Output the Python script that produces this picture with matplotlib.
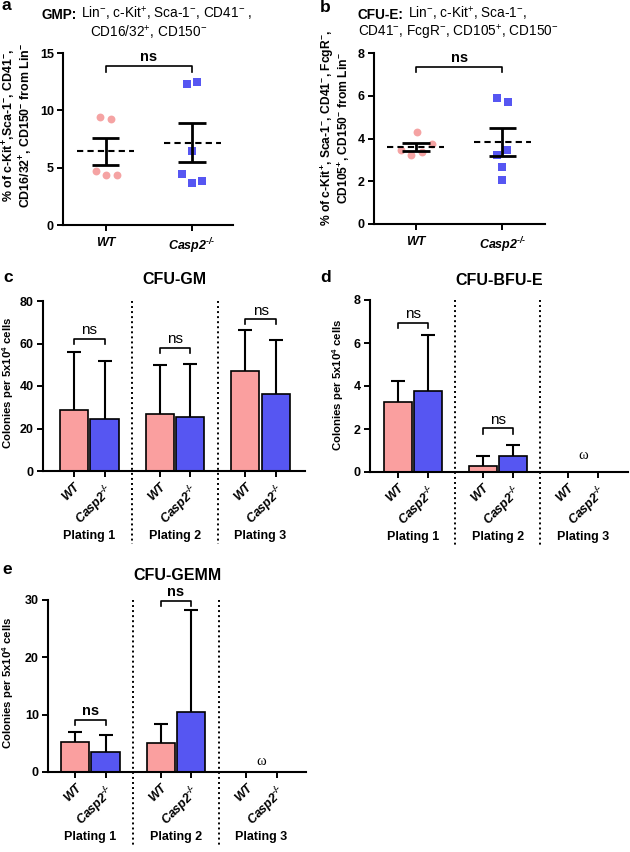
import numpy as np
import matplotlib
matplotlib.use('Agg')
import matplotlib.pyplot as plt
from matplotlib.transforms import blended_transform_factory

plt.rcParams['font.family'] = ['Liberation Sans', 'DejaVu Sans']
plt.rcParams['font.weight'] = 'bold'
plt.rcParams['mathtext.fontset'] = 'custom'
plt.rcParams['mathtext.rm'] = 'Liberation Sans'
plt.rcParams['mathtext.bf'] = 'Liberation Sans:bold'
plt.rcParams['mathtext.it'] = 'Liberation Sans:italic:bold'
plt.rcParams['mathtext.default'] = 'regular'

PINK_PT = '#F5A3A3'
PINK_BAR = '#FA9F9F'
BLUE = '#5656F2'

# ---------------- data ----------------
genotypes = ['WT', 'Casp2$^{\u2010/\u2010}$']

gmp_wt = [9.39, 9.24, 4.71, 4.36, 4.36]
gmp_ko = [12.31, 12.49, 6.43, 4.47, 3.65, 3.80]
gmp_wt_jit = [-0.06, 0.06, -0.115, 0.01, 0.127]
gmp_ko_jit = [-0.065, 0.054, 0.0, -0.119, 0.0, 0.115]

cfue_wt = [4.30, 3.47, 3.24, 3.35, 3.72]
cfue_ko = [5.90, 5.70, 3.44, 3.21, 2.69, 2.07]
cfue_wt_jit = [0.011, -0.169, -0.05, 0.073, 0.19]
cfue_ko_jit = [-0.065, 0.061, 0.054, -0.065, 0.0, 0.0]

platings = ['Plating 1', 'Plating 2', 'Plating 3']

gm_wt = [28.6, 26.8, 47.2]
gm_wt_sd = [27.3, 23.1, 19.2]
gm_ko = [24.6, 25.2, 36.4]
gm_ko_sd = [27.0, 25.2, 25.3]

bfu_wt = [3.27, 0.27, 0.0]
bfu_wt_sd = [0.96, 0.49, 0.0]
bfu_ko = [3.77, 0.76, 0.0]
bfu_ko_sd = [2.62, 0.48, 0.0]

gemm_wt = [5.3, 5.07, 0.0]
gemm_wt_sd = [1.7, 3.26, 0.0]
gemm_ko = [3.5, 10.5, 0.0]
gemm_ko_sd = [2.9, 17.75, 0.0]

W, H = 630, 852
fig = plt.figure(figsize=(W / 100, H / 100), dpi=100)


def px_axes(left, right, top, bottom):
    return fig.add_axes([left / W, 1 - bottom / H, (right - left) / W, (bottom - top) / H])


def style_axes(ax):
    for s in ['top', 'right']:
        ax.spines[s].set_visible(False)
    for s in ['left', 'bottom']:
        ax.spines[s].set_linewidth(1.5)
    ax.tick_params(axis='both', width=1.4, length=4.5, labelsize=9, pad=2)
    for lab in ax.get_yticklabels():
        lab.set_fontweight('bold')


def scatter_panel(ax, wt, wt_j, ko, ko_j, ylim, yticks, xlim, ns_y, ylabel, lab_xy, lab_fs):
    wt = np.asarray(wt); ko = np.asarray(ko)
    ax.scatter(0 + np.asarray(wt_j), wt, s=32, marker='o', color=PINK_PT, lw=0, zorder=2, clip_on=False)
    ax.scatter(1 + np.asarray(ko_j), ko, s=28, marker='s', color=BLUE, lw=0, zorder=2, clip_on=False)
    for x, d in [(0, wt), (1, ko)]:
        m = d.mean()
        sem = d.std(ddof=1) / np.sqrt(len(d))
        ax.hlines(m, x - 0.33, x + 0.33, colors='k', linestyles=(0, (3, 2)), lw=1.5, zorder=3)
        ax.vlines(x, m - sem, m + sem, colors='k', lw=2.0, zorder=3)
        ax.hlines([m - sem, m + sem], x - 0.16, x + 0.16, colors='k', lw=2.0, zorder=3)
    top, drop = ns_y
    ax.plot([0, 0, 1, 1], [top - drop, top, top, top - drop], color='k', lw=1.2, clip_on=False)
    ax.text(0.5, top + drop * 0.3, 'ns', ha='center', va='bottom', fontsize=10.5, fontweight='bold')
    ax.set_ylim(*ylim)
    ax.set_yticks(yticks)
    ax.set_xlim(*xlim)
    ax.set_xticks([0, 1])
    ax.set_xticklabels(genotypes, fontsize=9.8, fontstyle='italic', fontweight='bold')
    style_axes(ax)
    ax.tick_params(axis='x', pad=4)
    ax.set_ylabel(ylabel, fontsize=lab_fs, fontweight='bold', linespacing=0.95)
    ax.yaxis.set_label_coords(*lab_xy)


def bar_panel(ax, wt, wt_sd, ko, ko_sd, ylim, yticks, xlim, brackets, ns_bold, omega_y, lab_xy):
    step = 2.8
    pos_wt = np.arange(3) * step
    pos_ko = pos_wt + 1
    wt = np.asarray(wt); ko = np.asarray(ko)
    wt_sd = np.asarray(wt_sd); ko_sd = np.asarray(ko_sd)
    for pos, vals, sd, col in [(pos_wt, wt, wt_sd, PINK_BAR), (pos_ko, ko, ko_sd, BLUE)]:
        keep = vals > 0
        ax.bar(pos[keep], vals[keep], width=0.92, color=col, edgecolor='k', lw=1.2, zorder=2)
        eb = ax.errorbar(pos[keep], vals[keep], yerr=[np.zeros(keep.sum()), sd[keep]], fmt='none',
                         ecolor='k', elinewidth=1.5, capsize=5, capthick=1.5, zorder=1)
        for cap in eb[1]:
            if np.allclose(cap.get_ydata(), vals[keep]):
                cap.set_visible(False)
    dropfrac = 0.03 * (ylim[1] - ylim[0])
    for g, y in brackets:
        x0, x1 = pos_wt[g], pos_ko[g]
        ax.plot([x0, x0, x1, x1], [y - dropfrac, y, y, y - dropfrac], color='k', lw=1.2, clip_on=False)
        ax.text((x0 + x1) / 2, y + dropfrac * 0.25, 'ns', ha='center', va='bottom',
                fontsize=11 if not ns_bold else 10.5, fontweight='bold' if ns_bold else 'normal')
    if omega_y is not None:
        ax.text((pos_wt[2] + pos_ko[2]) / 2, omega_y, '\u03c9', ha='center', va='center',
                fontsize=10.5, fontfamily='Liberation Serif', fontweight='normal')
    ax.set_ylim(*ylim)
    ax.set_yticks(yticks)
    ax.set_xlim(*xlim)
    ticks = np.ravel(np.column_stack([pos_wt, pos_ko]))
    ax.set_xticks(ticks)
    ax.set_xticklabels(genotypes * 3, rotation=45, ha='right', rotation_mode='anchor',
                       fontsize=8.8, fontstyle='italic', fontweight='bold')
    style_axes(ax)
    ax.tick_params(axis='x', pad=3)
    trans = blended_transform_factory(ax.transData, ax.transAxes)
    for sep in [(pos_ko[0] + pos_wt[1]) / 2, (pos_ko[1] + pos_wt[2]) / 2]:
        ax.plot([sep, sep], [1.0, -0.43], transform=trans, color='k', lw=1.4,
                linestyle=(0, (1, 1.6)), clip_on=False)
    for g in range(3):
        ax.text((pos_wt[g] + pos_ko[g]) / 2, -0.38, platings[g], transform=trans,
                ha='center', va='center', fontsize=9, fontweight='bold')
    ax.set_ylabel('Colonies per 5x10$^{4}$ cells', fontsize=8.2, fontweight='bold')
    ax.yaxis.set_label_coords(*lab_xy)


# ---- panel a
axa = px_axes(63, 233, 53, 225)
scatter_panel(axa, gmp_wt, gmp_wt_jit, gmp_ko, gmp_ko_jit, (0, 15), [0, 5, 10, 15], (-0.49, 1.47),
              (13.86, 0.5),
              '% of c-Kit$^{+}$,Sca-1$^{-}$, CD41$^{-}$,\nCD16/32$^{+}$, CD150$^{-}$ from Lin$^{-}$',
              (-0.165, 0.58), 8.9)

# ---- panel b
axb = px_axes(374, 545, 53, 224)
scatter_panel(axb, cfue_wt, cfue_wt_jit, cfue_ko, cfue_ko_jit, (0, 8), [0, 2, 4, 6, 8], (-0.48, 1.49),
              (7.36, 0.23),
              '% of c-Kit$^{+}$, Sca-1$^{-}$, CD41$^{-}$, FcgR$^{-}$,\nCD105$^{+}$, CD150$^{-}$ from Lin$^{-}$',
              (-0.13, 0.56), 8.7)

# ---- panel c
axc = px_axes(43, 305, 301, 471)
bar_panel(axc, gm_wt, gm_wt_sd, gm_ko, gm_ko_sd, (0, 80), [0, 20, 40, 60, 80], (-1.01, 7.55),
          [(0, 62.3), (1, 58.1), (2, 71.4)], False, None, (-0.103, 0.52))

# ---- panel d
axd = px_axes(370, 628, 300, 472)
bar_panel(axd, bfu_wt, bfu_wt_sd, bfu_ko, bfu_ko_sd, (0, 8), [0, 2, 4, 6, 8], (-0.92, 7.59),
          [(0, 6.95), (1, 2.03)], False, 0.78, (-0.093, 0.506))

# ---- panel e
axe = px_axes(48, 306, 600, 772)
bar_panel(axe, gemm_wt, gemm_wt_sd, gemm_ko, gemm_ko_sd, (0, 30), [0, 10, 20, 30], (-0.88, 7.55),
          [(0, 9.14), (1, 29.9)], True, 1.75, (-0.124, 0.52))


# ---- titles (bold lead word followed by regular text)
def two_part(x, y, bold, rest, fs=9.8):
    t1 = fig.text(x / W, 1 - y / H, bold, ha='left', va='baseline', fontsize=fs, fontweight='bold')
    an = fig.add_artist(matplotlib.text.Annotation(rest, xy=(1, 0), xycoords=t1, xytext=(3, 0),
                                                   textcoords='offset points', ha='left', va='bottom',
                                                   fontsize=fs, fontweight='normal'))
    return t1, an


two_part(42, 19, 'GMP:', r'Lin$^{-}$, c-Kit$^{+}$, Sca-1$^{-}$, CD41$^{-}$ ,')
fig.text(149 / W, 1 - 37 / H, r'CD16/32$^{+}$, CD150$^{-}$',
         ha='center', va='baseline', fontsize=9.8, fontweight='normal')
two_part(358, 19, 'CFU-E:', r'Lin$^{-}$, c-Kit$^{+}$, Sca-1$^{-}$,')
fig.text(358 / W, 1 - 37 / H, r'CD41$^{-}$, FcgR$^{-}$, CD105$^{+}$, CD150$^{-}$',
         ha='left', va='baseline', fontsize=9.8, fontweight='normal')

fig.text(174 / W, 1 - 279 / H, 'CFU-GM', ha='center', va='center', fontsize=11.5, fontweight='bold')
fig.text(499 / W, 1 - 280 / H, 'CFU-BFU-E', ha='center', va='center', fontsize=11.5, fontweight='bold')
fig.text(177 / W, 1 - 576 / H, 'CFU-GEMM', ha='center', va='center', fontsize=11.5, fontweight='bold')

for letter, x, y in [('a', 2, 6), ('b', 320, 7), ('c', 3, 278), ('d', 320, 277), ('e', 2, 570)]:
    fig.text(x / W, 1 - y / H, letter, ha='left', va='center', fontsize=12.5, fontweight='bold')

fig.savefig('out.png', dpi=100)
